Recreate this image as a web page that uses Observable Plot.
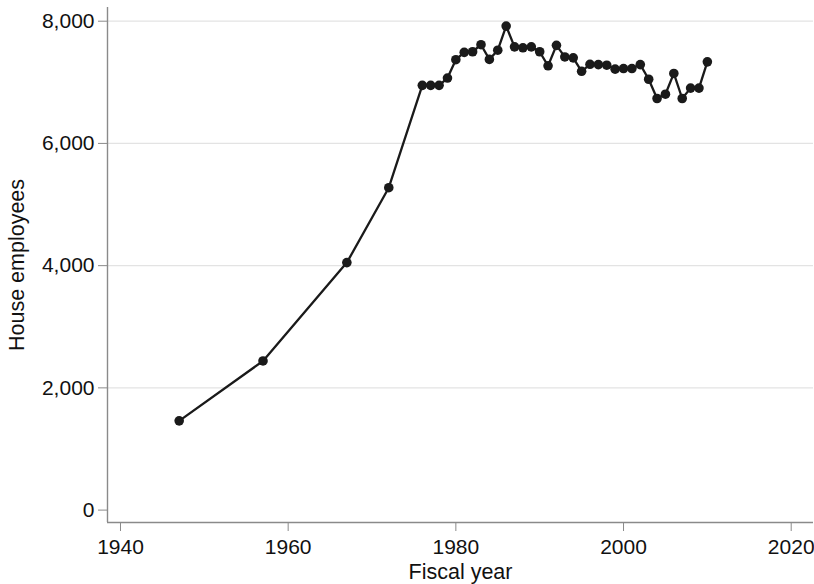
<!DOCTYPE html>
<html>
<head>
<meta charset="utf-8">
<script src="https://cdn.jsdelivr.net/npm/d3@7"></script>
<script src="https://cdn.jsdelivr.net/npm/@observablehq/plot@0.6"></script>
<style>
  html, body { margin: 0; padding: 0; background: #fff; }
  #chart svg { display: block; }
</style>
</head>
<body>
<div id="chart"></div>
<script>
const years = [1947, 1957, 1967, 1972,
  1976, 1977, 1978, 1979, 1980, 1981, 1982, 1983, 1984, 1985, 1986, 1987, 1988, 1989,
  1990, 1991, 1992, 1993, 1994, 1995, 1996, 1997, 1998, 1999, 2000, 2001, 2002, 2003,
  2004, 2005, 2006, 2007, 2008, 2009, 2010];
const employees = [1460, 2440, 4050, 5275,
  6950, 6950, 6950, 7070, 7370, 7490, 7500, 7615, 7375, 7525, 7920, 7580, 7565, 7580,
  7500, 7270, 7605, 7415, 7400, 7180, 7295, 7290, 7280, 7215, 7225, 7225, 7290, 7050,
  6735, 6805, 7145, 6735, 6905, 6905, 7335];
const xTicks = [1940, 1960, 1980, 2000, 2020];
const yTicks = [0, 2000, 4000, 6000, 8000];
const gridTicks = [2000, 4000, 6000, 8000];
const xTitle = "Fiscal year";
const yTitle = "House employees";

const data = years.map((y, i) => ({year: y, value: employees[i]}));
const xDomain = [1938.45, 2022.66];
const yDomain = [-203, 8224];

const chart = Plot.plot({
  width: 814,
  height: 584,
  marginLeft: 107,
  marginRight: 1,
  marginTop: 7,
  marginBottom: 62,
  style: {fontFamily: "'Liberation Sans', Arial, sans-serif", fontSize: "21px", color: "#111", background: "#fff"},
  x: {domain: xDomain},
  y: {domain: yDomain},
  marks: [
    Plot.gridY(gridTicks, {stroke: "#e3e3e3", strokeOpacity: 1, strokeWidth: 1.3}),
    Plot.ruleX([xDomain[0]], {stroke: "#8a8a8a", strokeWidth: 1.4}),
    Plot.ruleY([yDomain[0]], {stroke: "#8a8a8a", strokeWidth: 1.4}),
    Plot.axisY(yTicks, {tickSize: 9, tickPadding: 4, tickFormat: d3.format(","), stroke: "#8a8a8a", fill: "#111", fontSize: 21, label: null}),
    Plot.axisX(xTicks, {tickSize: 9, tickPadding: 8, tickFormat: d => String(d), stroke: "#8a8a8a", fill: "#111", fontSize: 21, label: null}),
    Plot.line(data, {x: "year", y: "value", stroke: "#1a1a1a", strokeWidth: 2.3}),
    Plot.dot(data, {x: "year", y: "value", r: 4.8, fill: "#1a1a1a", stroke: "none"}),
    Plot.text([yTitle], {frameAnchor: "left", rotate: -90, dx: -90, text: d => d, fontSize: 21.5, fill: "#111", textAnchor: "middle"}),
    Plot.text([xTitle], {frameAnchor: "bottom", dy: 50, text: d => d, fontSize: 21.5, fill: "#111", lineAnchor: "middle"})
  ]
});
document.getElementById("chart").appendChild(chart);
</script>
</body>
</html>
